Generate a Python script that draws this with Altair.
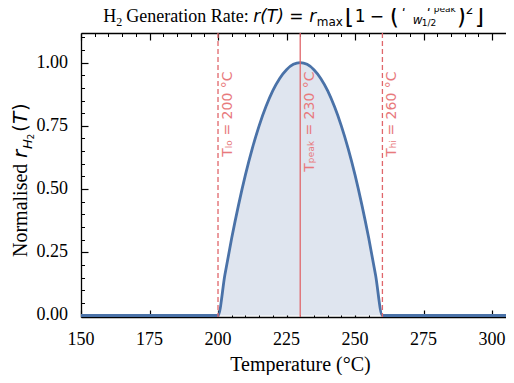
import altair as alt
import pandas as pd

# ---------------- data ----------------
T_VALUES = [150, 200, 202.5, 205, 207.5, 210, 212.5, 215, 217.5, 220, 222.5, 225, 227.5,
            230, 232.5, 235, 237.5, 240, 242.5, 245, 247.5, 250, 252.5, 255, 257.5, 260, 306]
R_VALUES = [0.0, 0.0, 0.160, 0.306, 0.4375, 0.556, 0.660, 0.750, 0.826, 0.889, 0.9375, 0.972, 0.993,
            1.000, 0.993, 0.972, 0.9375, 0.889, 0.826, 0.750, 0.660, 0.556, 0.4375, 0.306, 0.160, 0.0, 0.0]
T_LO, T_PEAK, T_HI = 200, 230, 260
LABEL_LO = "Tₗₒ = 200 °C"
LABEL_PEAK = "Tₚₑₐₖ = 230 °C"
LABEL_HI = "Tₕᵢ = 260 °C"
X_MAJOR = [150, 175, 200, 225, 250, 275, 300]
X_MAJOR_LABELS = ["150", "175", "200", "225", "250", "275", "300"]
X_MINOR = [v for v in range(155, 306, 5) if v % 25 != 0]
Y_MAJOR = [0.0, 0.25, 0.5, 0.75, 1.0]
Y_MAJOR_LABELS = ["0.00", "0.25", "0.50", "0.75", "1.00"]
Y_MINOR = [round(0.05 * i, 2) for i in range(1, 23) if i % 5 != 0]
X_TITLE = "Temperature (°C)"

SERIF = "Liberation Serif"
SANS = "DejaVu Sans"
BLUE = "#4a72a8"
FILL = "#dfe5ef"
RED = "#e0666b"
RED_TXT = "#e87a7d"
NB = "\u00a0"

curve = pd.DataFrame({"T": T_VALUES, "r": R_VALUES})
lo_df = pd.DataFrame({"T": [T_LO]})
pk_df = pd.DataFrame({"T": [T_PEAK]})
hi_df = pd.DataFrame({"T": [T_HI]})
xlab_df = pd.DataFrame({"T": X_MAJOR, "lab": X_MAJOR_LABELS})
ylab_df = pd.DataFrame({"v": Y_MAJOR, "lab": Y_MAJOR_LABELS})
one = pd.DataFrame({"k": [0]})

W, H = 425, 284
xs = alt.Scale(domain=[150, 305.1], nice=False, zero=False)
ys = alt.Scale(domain=[-0.006, 1.117], nice=False, zero=False)


def ax(orient, **kw):
    base = dict(orient=orient, grid=False, labels=False, ticks=False, domain=False, title=None)
    base.update(kw)
    return alt.Axis(**base)


def major(orient, values):
    return ax(orient, values=values, ticks=True, tickSize=7, offset=-7, tickColor="black", tickWidth=1.2)


def minor(orient, values):
    return ax(orient, values=values, ticks=True, tickSize=3.5, offset=-3.5, tickColor="black", tickWidth=1.0)


x_dom = ax("bottom", values=X_MAJOR, domain=True, domainColor="black", domainWidth=1.3,
           title=X_TITLE, titleFont=SERIF, titleFontSize=20, titleFontWeight="normal",
           titleColor="black", titleX=219, titleY=53, titleBaseline="alphabetic")
y_dom = ax("left", values=Y_MAJOR, domain=True, domainColor="black", domainWidth=1.3)
x_top_dom = ax("top", domain=True, domainColor="black", domainWidth=1.3)

area = alt.Chart(curve).mark_area(color=FILL, interpolate="monotone").encode(
    x=alt.X("T:Q", scale=xs, axis=x_dom),
    y=alt.Y("r:Q", scale=ys, axis=y_dom),
)
line = alt.Chart(curve).mark_line(color=BLUE, strokeWidth=2.8, interpolate="monotone").encode(
    x=alt.X("T:Q", scale=xs, axis=major("bottom", X_MAJOR)),
    y=alt.Y("r:Q", scale=ys, axis=major("left", Y_MAJOR)),
)
rule_lo = alt.Chart(lo_df).mark_rule(color=RED, strokeWidth=1.3, strokeDash=[5, 3]).encode(
    x=alt.X("T:Q", scale=xs, axis=x_top_dom))
rule_pk = alt.Chart(pk_df).mark_rule(color=RED, strokeWidth=1.3).encode(
    x=alt.X("T:Q", scale=xs, axis=major("top", X_MAJOR)))
rule_hi = alt.Chart(hi_df).mark_rule(color=RED, strokeWidth=1.3, strokeDash=[5, 3]).encode(
    x=alt.X("T:Q", scale=xs, axis=minor("top", X_MINOR)))

# tick labels (serif), positioned through the shared scales
xlabels = alt.Chart(xlab_df).mark_text(font=SERIF, fontSize=18, color="black", baseline="middle",
                                       align="center").encode(
    x=alt.X("T:Q", scale=xs, axis=None), y=alt.value(H + 22.5), text="lab:N")
ylabels = alt.Chart(ylab_df).mark_text(font=SERIF, fontSize=18, color="black", baseline="middle",
                                       align="right").encode(
    y=alt.Y("v:Q", scale=ys, axis=None), x=alt.value(-13), text="lab:N")


def vlabel(df, text, xaxis, yaxis):
    return alt.Chart(df).mark_text(text=text, font=SANS, fontSize=14, color=RED_TXT, angle=270,
                                   align="right", baseline="top", dy=2.5).encode(
        x=alt.X("T:Q", scale=xs, axis=xaxis),
        y=alt.Y(datum=0.965, scale=ys, axis=yaxis),
    )


txt_lo = vlabel(lo_df, LABEL_LO, minor("bottom", X_MINOR), minor("left", Y_MINOR))
txt_pk = vlabel(pk_df, LABEL_PEAK, None, None)
txt_hi = vlabel(hi_df, LABEL_HI, None, None)


def piece(text, x, y, size, font=SANS, style="normal", angle=0, color="black"):
    return alt.Chart(one).mark_text(text=text, font=font, fontSize=size, fontStyle=style,
                                    align="left", baseline="alphabetic", angle=angle,
                                    color=color).encode(x=alt.value(x), y=alt.value(y))


# ---- composed title (plot-pixel coordinates) ----
TB = -11.5
title_parts = [
    ("H", 18, SERIF, "normal", 0, 13.0),
    ("2", 12, SERIF, "normal", 4, 10.0),
    ("Generation" + NB + "Rate:", 18, SERIF, "normal", 0, 127),
    ("r(T)", 17, SANS, "italic", 0, 36),
    ("=", 17, SANS, "normal", 0, 20),
    ("r", 17, SANS, "italic", 0, 7.5),
    ("max", 12, SANS, "normal", 4, 28),
    ("[", 24, SANS, "normal", 2, 10),
    ("1", 17, SANS, "normal", 0, 15),
    ("−", 17, SANS, "normal", 0, 20),
    ("(", 24, SANS, "normal", 2, 9),
    ("FRAC", 0, SANS, "normal", 0, 58),
    (")", 24, SANS, "normal", 2, 9),
    ("2", 12, SANS, "normal", -8, 9),
    ("]", 24, SANS, "normal", 2, 10),
]
total_w = sum(p[5] for p in title_parts)
cx = 294 - 81
xpos = cx - total_w / 2
title_layers = []
for text, size, font, style, dy, w in title_parts:
    if text == "FRAC":
        title_layers.append(piece("T" + NB + "−" + NB + "T", xpos + 2, TB - 11, 12, SANS, "italic"))
        title_layers.append(piece("peak", xpos + 35, TB - 10, 9, SANS))
        title_layers.append(piece("w", xpos + 14, TB + 2, 12, SANS, "italic"))
        title_layers.append(piece("1/2", xpos + 23, TB + 4, 9, SANS))
    else:
        title_layers.append(piece(text, xpos, TB + dy, size, font, style))
    xpos += w

# ---- composed y-axis title (rotated) ----
YX = -54
ytitle = [
    piece("Normalised", YX, 224, 20, SERIF, "normal", 270),
    piece("r", YX, 125, 20, SANS, "italic", 270),
    piece("H", YX + 5, 116, 13, SANS, "italic", 270),
    piece("2", YX + 7, 106.5, 9, SANS, "normal", 270),
    piece("(", YX, 99, 20, SANS, "normal", 270),
    piece("T", YX, 91, 20, SANS, "italic", 270),
    piece(")", YX, 78, 20, SANS, "normal", 270),
]

chart = alt.layer(
    area, line, rule_lo, rule_pk, rule_hi, txt_lo, txt_pk, txt_hi, xlabels, ylabels,
    *title_layers, *ytitle
).resolve_axis(x="independent", y="independent").properties(
    width=W, height=H,
    autosize=alt.AutoSizeParams(type="none"),
    padding={"left": 73, "top": 25, "right": 0, "bottom": 58},
).configure_view(stroke=None).configure_axis(
    grid=False, titleFont=SERIF, titleFontWeight="normal", titleColor="black",
)

chart.save("out.html", embed_options={"renderer": "svg", "actions": False})
